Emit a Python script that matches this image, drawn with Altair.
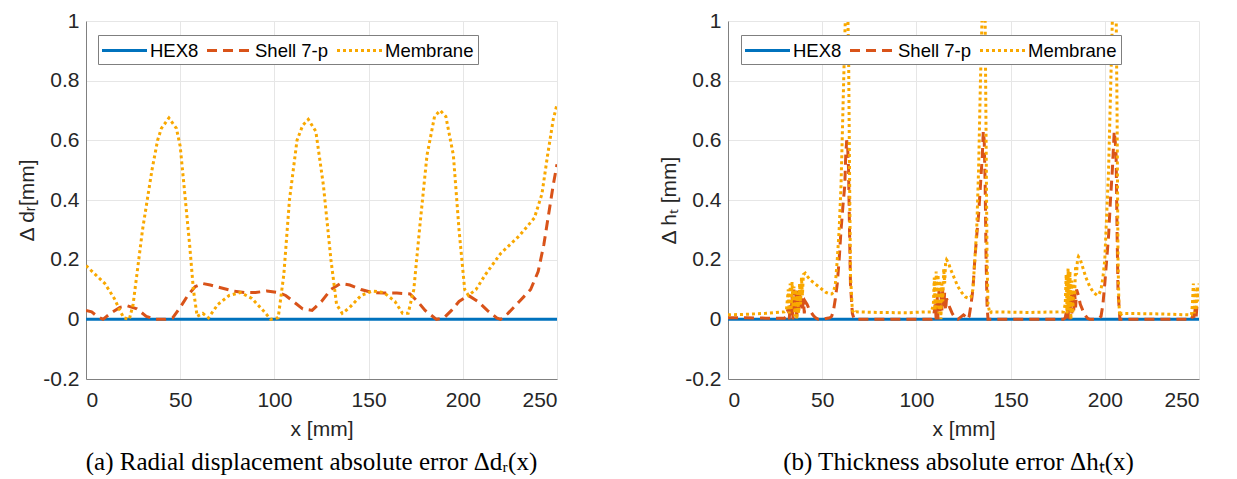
import altair as alt
import pandas as pd

SERIES = ["HEX8", "Shell 7-p", "Membrane"]
COLORS = ["#0072BD", "#D95319", "#F9A800"]
DASHES = [[1, 0], [10, 6], [3, 3]]

X_TICKS = [0, 50, 100, 150, 200, 250]
Y_TICKS = [-0.2, 0, 0.2, 0.4, 0.6, 0.8, 1]

# ---- panel (a): radial displacement absolute error
A_HEX_X = [0, 250]
A_HEX_Y = [0, 0]

A_SHELL_X = [0, 3, 6, 9, 13, 18, 22, 27, 32, 37, 42, 46, 50, 54, 58, 62, 66, 72, 78, 84, 90, 96, 102, 106,
             110, 115, 120, 125, 130, 135, 140, 146, 152, 158, 165, 172, 176, 180, 186, 190, 194, 198, 203,
             208, 213, 218, 220, 224, 230, 236, 240, 243, 246, 248, 250]
A_SHELL_Y = [0.03, 0.025, 0.01, 0.0, 0.02, 0.04, 0.045, 0.035, 0.01, 0.0, 0.0, 0.005, 0.04, 0.08, 0.11,
             0.12, 0.115, 0.105, 0.095, 0.09, 0.09, 0.095, 0.09, 0.08, 0.06, 0.035, 0.03, 0.06, 0.1, 0.12,
             0.115, 0.1, 0.09, 0.088, 0.088, 0.085, 0.06, 0.03, 0.0, 0.005, 0.03, 0.06, 0.08, 0.06, 0.03,
             0.005, 0.0, 0.02, 0.06, 0.1, 0.16, 0.25, 0.37, 0.45, 0.52]

A_MEM_X = [0, 5, 10, 15, 18, 20, 23, 25, 28, 30, 33, 35, 38, 40, 44, 48, 50, 52, 55, 57, 59, 62, 65, 70,
           76, 82, 88, 94, 98, 102, 105, 108, 112, 115, 118, 122, 126, 130, 133, 136, 140, 146, 152, 158,
           164, 168, 171, 174, 177, 181, 185, 188, 191, 195, 198, 201, 203, 207, 212, 220, 230, 238, 242,
           245, 248, 250]
A_MEM_Y = [0.18, 0.15, 0.12, 0.07, 0.03, 0.005, 0.0, 0.05, 0.2, 0.3, 0.42, 0.5, 0.6, 0.64, 0.675, 0.64,
           0.58, 0.45, 0.25, 0.1, 0.01, 0.02, 0.005, 0.05, 0.08, 0.09, 0.07, 0.03, 0.0, 0.005, 0.15, 0.4,
           0.6, 0.65, 0.67, 0.63, 0.45, 0.2, 0.05, 0.02, 0.04, 0.08, 0.095, 0.09, 0.06, 0.02, 0.02, 0.1,
           0.3, 0.55, 0.68, 0.70, 0.68, 0.55, 0.3, 0.1, 0.08, 0.1, 0.15, 0.22, 0.28, 0.34, 0.42, 0.55,
           0.67, 0.72]

# ---- panel (b): thickness absolute error
B_HEX_X = [0, 250]
B_HEX_Y = [0, 0]

B_SHELL_X = [0, 10, 20, 30, 31, 32, 32.5, 33, 33.5, 34, 34.5, 35, 35.5, 36, 36.5, 37, 37.5, 38, 38.5, 39,
             39.5, 40, 40.5, 41, 42, 43, 44, 45, 46, 47, 48, 50, 52, 54, 55, 56, 57, 58, 59, 60, 61, 62,
             62.5, 63, 63.5, 64, 64.5, 65, 66, 67, 80, 100, 108, 109, 110, 110.5, 111, 111.5, 112, 112.5,
             113, 113.5, 114, 114.5, 115, 115.5, 116, 117, 118, 119, 120, 121, 122, 123, 124, 125, 126,
             127, 128, 129, 130, 131, 132, 133, 134, 135, 135.5, 136, 136.5, 137, 137.5, 138, 150, 170,
             178, 179, 180, 180.5, 181, 181.5, 182, 182.5, 183, 183.5, 184, 184.5, 185, 186, 187, 188, 189,
             190, 191, 192, 195, 197, 198, 199, 200, 201, 202, 203, 204, 205, 205.5, 206, 206.5, 207, 208,
             220, 240, 246, 247, 247.5, 248, 248.5, 249, 250]
B_SHELL_Y = [0.005, 0.005, 0.004, 0.004, 0.01, 0.04, 0.0, 0.05, 0.01, 0.08, 0.0, 0.1, 0.02, 0.09, 0.0,
             0.1, 0.03, 0.09, 0.04, 0.08, 0.03, 0.07, 0.02, 0.06, 0.05, 0.035, 0.025, 0.015, 0.008, 0.003,
             0.0, 0.0, 0.003, 0.005, 0.01, 0.03, 0.07, 0.12, 0.2, 0.3, 0.38, 0.45, 0.55, 0.6, 0.58, 0.5,
             0.3, 0.12, 0.02, 0.0, 0.0, 0.0, 0.0, 0.005, 0.05, 0.0, 0.08, 0.0, 0.1, 0.02, 0.09, 0.03, 0.1,
             0.04, 0.09, 0.03, 0.07, 0.05, 0.035, 0.02, 0.01, 0.003, 0.0, 0.005, 0.01, 0.015, 0.01, 0.0,
             0.01, 0.05, 0.1, 0.2, 0.28, 0.35, 0.45, 0.55, 0.63, 0.6, 0.45, 0.2, 0.05, 0.0, 0.0, 0.0, 0.0,
             0.005, 0.04, 0.0, 0.07, 0.0, 0.09, 0.02, 0.1, 0.03, 0.09, 0.04, 0.1, 0.08, 0.05, 0.035, 0.02,
             0.01, 0.003, 0.0, 0.0, 0.005, 0.01, 0.05, 0.12, 0.2, 0.28, 0.4, 0.5, 0.63, 0.6, 0.55, 0.3,
             0.1, 0.0, 0.0, 0.0, 0.0, 0.02, 0.0, 0.04, 0.01, 0.05, 0.05]

B_MEM_X = [0, 10, 20, 30, 31, 32, 32.5, 33, 33.5, 34, 34.5, 35, 35.5, 36, 36.5, 37, 37.5, 38, 38.5, 39,
           39.5, 40, 41, 42, 44, 46, 48, 50, 52, 54, 55, 56, 57, 58, 59, 60, 61, 62, 62.5, 63, 63.5, 64,
           64.5, 65, 66, 67, 68, 80, 95, 105, 108, 109, 109.5, 110, 110.5, 111, 111.5, 112, 112.5, 113,
           113.5, 114, 114.5, 115, 115.5, 116, 117, 118, 120, 122, 124, 126, 128, 129, 130, 131, 132, 133,
           134, 135, 136, 136.5, 137, 137.5, 138, 139, 140, 160, 175, 178, 179, 179.5, 180, 180.5, 181,
           181.5, 182, 182.5, 183, 183.5, 184, 184.5, 185, 185.5, 186, 187, 188, 190, 192, 194, 196, 197,
           198, 199, 200, 201, 202, 203, 204, 205, 206, 206.5, 207, 207.5, 208, 209, 210, 230, 245, 246,
           246.5, 247, 247.5, 248, 248.5, 249, 249.5, 250]
B_MEM_Y = [0.015, 0.017, 0.02, 0.025, 0.03, 0.1, 0.02, 0.12, 0.03, 0.125, 0.04, 0.11, 0.01, 0.1, 0.0,
           0.09, 0.02, 0.12, 0.05, 0.14, 0.08, 0.15, 0.155, 0.145, 0.13, 0.12, 0.11, 0.1, 0.09, 0.085,
           0.085, 0.09, 0.12, 0.2, 0.3, 0.45, 0.7, 0.95, 1.05, 1.1, 1.05, 0.9, 0.5, 0.15, 0.03, 0.02,
           0.025, 0.023, 0.022, 0.025, 0.025, 0.05, 0.14, 0.03, 0.16, 0.04, 0.15, 0.02, 0.13, 0.0, 0.12,
           0.06, 0.17, 0.12, 0.19, 0.2, 0.19, 0.17, 0.14, 0.11, 0.09, 0.075, 0.07, 0.075, 0.1, 0.2, 0.3,
           0.5, 0.8, 1.05, 1.1, 1.0, 0.6, 0.2, 0.05, 0.02, 0.025, 0.023, 0.025, 0.025, 0.05, 0.15, 0.02,
           0.17, 0.03, 0.16, 0.0, 0.13, 0.02, 0.12, 0.08, 0.18, 0.15, 0.2, 0.21, 0.2, 0.18, 0.14, 0.11,
           0.09, 0.08, 0.085, 0.1, 0.14, 0.2, 0.35, 0.5, 0.75, 1.0, 1.1, 1.05, 0.7, 0.2, 0.05, 0.01, 0.02,
           0.02, 0.018, 0.015, 0.015, 0.05, 0.12, 0.02, 0.1, 0.03, 0.11, 0.06, 0.12]


def frame(series_lists):
    rows = []
    for name, xs, ys in series_lists:
        for i, (x, y) in enumerate(zip(xs, ys)):
            rows.append({"series": name, "x": x, "y": y, "order": i})
    return pd.DataFrame(rows)


df_a = frame([("HEX8", A_HEX_X, A_HEX_Y), ("Shell 7-p", A_SHELL_X, A_SHELL_Y), ("Membrane", A_MEM_X, A_MEM_Y)])
df_b = frame([("HEX8", B_HEX_X, B_HEX_Y), ("Shell 7-p", B_SHELL_X, B_SHELL_Y), ("Membrane", B_MEM_X, B_MEM_Y)])

LABEL_FONT = "Liberation Sans"
Y_LABEL_EXPR = "datum.value < 0 ? '-' + format(-datum.value, '.1~f') : format(datum.value, '.1~f')"
# long, flat legend line sample: 45 px wide while the legend row stays 20 px tall
LEGEND_SYMBOL = "M-1.15,0H3.35"


def panel(df, ytitle, caption, lx, cdx):
    legend = alt.Legend(
        title=None, orient="none", legendX=lx, legendY=14, direction="horizontal",
        symbolType=LEGEND_SYMBOL, symbolSize=400, symbolStrokeWidth=3,
        symbolFillColor="transparent",
        labelFont=LABEL_FONT, labelFontSize=18.5, labelColor="#000000", labelOffset=25,
        columnPadding=2, padding=4, strokeColor="#7f7f7f", fillColor="#ffffff",
        cornerRadius=0,
    )
    return alt.Chart(df).mark_line(strokeWidth=3, clip=True, strokeCap="butt").encode(
        x=alt.X("x:Q", title="x [mm]",
                scale=alt.Scale(domain=[0, 250], nice=False, zero=False),
                axis=alt.Axis(values=X_TICKS, format="d", labelPadding=10, titlePadding=8)),
        y=alt.Y("y:Q", title=ytitle,
                scale=alt.Scale(domain=[-0.2, 1], nice=False, zero=False),
                axis=alt.Axis(values=Y_TICKS, labelExpr=Y_LABEL_EXPR, labelPadding=7, titlePadding=5)),
        color=alt.Color("series:N", sort=SERIES,
                        scale=alt.Scale(domain=SERIES, range=COLORS), legend=legend),
        strokeDash=alt.StrokeDash("series:N", sort=SERIES,
                                  scale=alt.Scale(domain=SERIES, range=DASHES), legend=legend),
        order=alt.Order("order:Q"),
        detail="series:N",
    ).properties(
        width=471, height=358,
        title=alt.TitleParams(caption, orient="bottom", anchor="middle", font="Liberation Serif",
                              fontSize=25, fontWeight="normal", color="#000000", offset=11, dx=cdx),
    )


chart_a = panel(df_a, "Δ dᵣ[mm]", "(a) Radial displacement absolute error Δdᵣ(x)", 12, -10)
chart_b = panel(df_b, "Δ hₜ [mm]", "(b) Thickness absolute error Δhₜ(x)", 13, -5)

chart = alt.hconcat(chart_a, chart_b, spacing=101).resolve_scale(
    color="independent", strokeDash="independent"
).configure(
    padding={"left": 8, "top": 2, "right": 5, "bottom": 0},
).configure_view(
    stroke=None,
).configure_axis(
    labelFont=LABEL_FONT, labelFontSize=21, labelColor="#262626",
    titleFont=LABEL_FONT, titleFontSize=21, titleColor="#262626", titleFontWeight="normal",
    gridColor="#e6e6e6", gridWidth=1, domainColor="#808080", domainWidth=1,
    ticks=False,
)

chart.save("out.html", embed_options={"renderer": "svg", "actions": False})
